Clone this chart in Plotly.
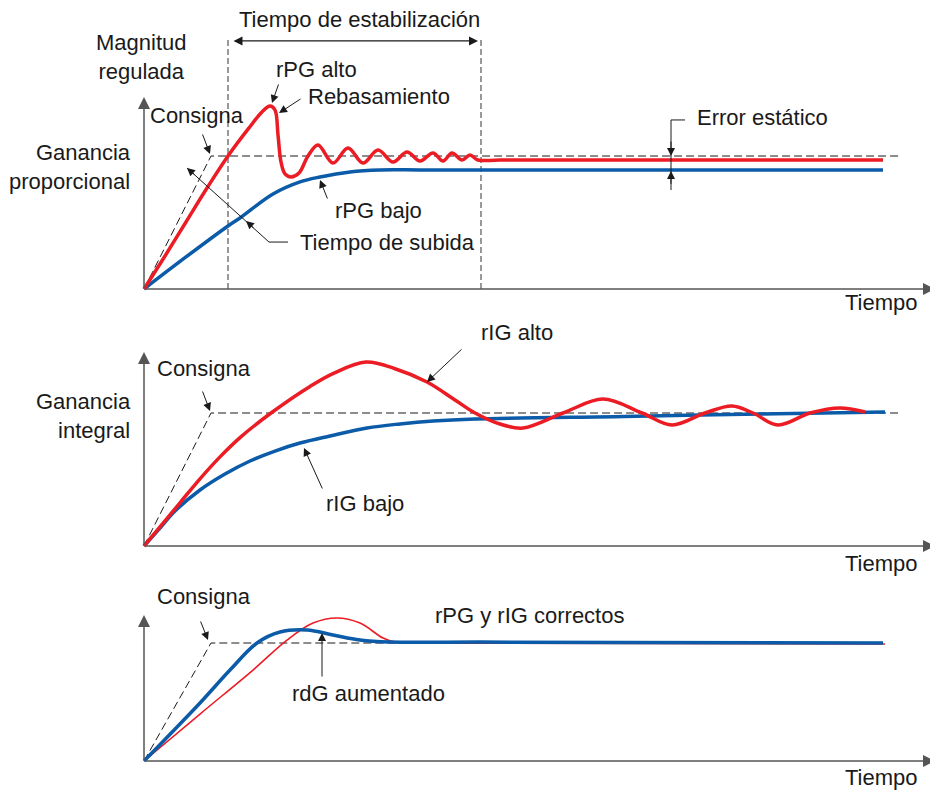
import plotly.graph_objects as go

# ---- data (time units, magnitude with setpoint = 1) ----
# panel 1: proportional gain
p1_red_t = [0, 0.2625, 0.525, 0.7875, 1.05, 1.3125, 1.475, 1.575, 1.6375, 1.675, 1.7125, 1.7625,
            1.8375, 1.9375, 2.05, 2.175, 2.3625, 2.55, 2.7375, 2.925, 3.1125, 3.2875, 3.45,
            3.6125, 3.7375, 3.85, 3.975, 4.075, 4.175, 4.45, 6.0, 9.2375]
p1_red_y = [0, 0.248, 0.504, 0.759, 1.0, 1.211, 1.331, 1.376, 1.346, 1.158, 0.955, 0.865,
            0.842, 0.872, 1.0, 1.083, 0.947, 1.060, 0.947, 1.045, 0.955, 1.030, 0.962,
            1.023, 0.962, 1.023, 0.970, 1.008, 0.970, 0.970, 0.970, 0.970]
p1_blue_t = [0, 0.525, 1.05, 1.2, 1.6125, 1.95, 2.2, 2.575, 2.95, 3.45, 4.5, 9.2375]
p1_blue_y = [0, 0.241, 0.474, 0.534, 0.714, 0.805, 0.842, 0.880, 0.895, 0.895, 0.895, 0.895]

# panel 2: integral gain
p2_red_t = [0, 0.2, 0.45, 0.7, 0.95, 1.2, 1.5875, 2.075, 2.375, 2.775, 3.1375, 3.5375, 3.8875,
            4.1375, 4.45, 4.7375, 5.2375, 5.7375, 6.225, 6.6, 7.0125, 7.35, 7.6125, 7.925,
            8.325, 8.7, 9.0125]
p2_red_y = [0, 0.143, 0.325, 0.505, 0.67, 0.815, 1.0, 1.2, 1.3, 1.383, 1.333, 1.233, 1.098,
            1.0, 0.917, 0.887, 1.0, 1.105, 1.0, 0.910, 1.0, 1.053, 1.0, 0.910, 1.0, 1.038,
            1.008]
p2_blue_t = [0, 0.2, 0.3875, 0.7, 1.0125, 1.325, 1.6375, 1.95, 2.325, 2.7875, 3.2, 3.6125,
             4.1375, 6.0, 7.5, 9.2625]
p2_blue_y = [0, 0.135, 0.263, 0.421, 0.541, 0.639, 0.714, 0.774, 0.827, 0.887, 0.918, 0.940,
             0.955, 0.974, 0.990, 1.008]

# panel 3: derivative gain
p3_red_t = [0, 0.7, 1.3625, 1.7875, 2.1125, 2.4125, 2.7, 2.9875, 3.1375, 3.45, 4.5, 9.2625]
p3_red_y = [0, 0.398, 0.771, 1.025, 1.169, 1.212, 1.169, 1.042, 1.008, 1.0, 0.998, 0.992]
p3_blue_t = [0, 0.7, 1.075, 1.4125, 1.7, 2.0375, 2.3625, 2.7, 3.075, 4.2, 6.0, 9.2375]
p3_blue_y = [0, 0.492, 0.771, 1.0, 1.093, 1.110, 1.068, 1.025, 1.008, 1.008, 1.005, 1.0]

# setpoint ramp then plateau
setpoint_t = [0, 0.8375, 9.45]
setpoint_y = [0, 1.0, 1.0]
setpoint3_t = [0, 0.8375, 9.2]

rise_t = 1.05
settle_t = 4.2125
static_err_t = 6.5875

RED = "#ec1c24"
BLUE = "#0b5ba8"
INK = "#1a1a1a"
AXIS = "#555555"
FONT = "Liberation Sans, Arial, sans-serif"
FS = 22

# ---- layout geometry (pixels of the 938x794 reference page) ----
OFF = 8                      # default body margin of the html page
W, H = 938 - OFF, 794 - OFF
X0, TPX = 144, 80.0
panels = [  # top px, bottom px, origin px, px per unit
    (OFF, 315, 289, 133.0),
    (315, 580, 546, 133.0),
    (580, 794, 761, 118.0),
]

fig = go.Figure()


def axn(i):
    return "" if i == 1 else str(i)


def line(i, t, y, color, width, dash=None, shape="spline"):
    fig.add_trace(go.Scatter(
        x=t, y=y, mode="lines", xaxis="x" + axn(i), yaxis="y" + axn(i),
        line=dict(color=color, width=width, dash=dash, shape=shape, smoothing=1.0),
        hoverinfo="skip", showlegend=False))


annotations = []


def arrow(i, x0, y0, x1, y1, width=1.0, size=1.6, color=INK, side="end"):
    annotations.append(dict(
        x=x1, y=y1, ax=x0, ay=y0, xref="x" + axn(i), yref="y" + axn(i),
        axref="x" + axn(i), ayref="y" + axn(i), text="", showarrow=True,
        arrowhead=2, arrowsize=size, arrowwidth=width, arrowcolor=color,
        arrowside=side, standoff=0, startstandoff=0))


def label(i, x, y, text, xanchor="center", align="center"):
    annotations.append(dict(
        x=x, y=y, xref="x" + axn(i), yref="y" + axn(i), text=text, showarrow=False,
        xanchor=xanchor, yanchor="middle", align=align,
        font=dict(family=FONT, size=FS, color=INK)))


# panel 1
line(1, setpoint_t, setpoint_y, INK, 1, dash="8px,4px", shape="linear")
line(1, [rise_t, rise_t], [0, 1.887], "#333333", 1, dash="6px,3px", shape="linear")
line(1, [settle_t, settle_t], [0, 1.887], "#333333", 1, dash="6px,3px", shape="linear")
line(1, p1_blue_t, p1_blue_y, BLUE, 3.5)
line(1, p1_red_t, p1_red_y, RED, 3.5)
line(1, [static_err_t + 0.175, static_err_t, static_err_t], [1.271, 1.271, 0.744], INK, 1, shape="linear")
line(1, [1.8, 1.5625, 0.5375], [0.353, 0.353, 0.910], INK, 1, shape="linear")

# panel 2
line(2, setpoint_t, setpoint_y, INK, 1, dash="8px,4px", shape="linear")
line(2, p2_blue_t, p2_blue_y, BLUE, 3.5)
line(2, p2_red_t, p2_red_y, RED, 3.5)

# panel 3
line(3, setpoint3_t, setpoint_y, INK, 1, dash="8px,4px", shape="linear")
line(3, p3_red_t, p3_red_y, RED, 1.6)
line(3, p3_blue_t, p3_blue_y, BLUE, 3.5)

# axes with arrowheads
tops = [1.444, 1.459, 1.237]
for i, top in enumerate(tops, start=1):
    arrow(i, 0, 0, 0, top, width=1.5, size=1.6, color=AXIS)
    arrow(i, 0, 0, 9.8875, 0, width=1.5, size=1.6, color=AXIS)
    label(i, 9.7, [-0.105, -0.128, -0.136][i - 1], "Tiempo", xanchor="right")

# panel 1 annotations
arrow(1, 1.1, 1.865, 4.175, 1.865, width=1.2, size=1.5, side="end+start")
label(1, 2.6875, 2.023, "Tiempo de estabilización")
label(1, -0.0375, 1.744, "Magnitud<br>regulada")
label(1, 0.6625, 1.308, "Consigna")
arrow(1, 0.725, 1.173, 0.825, 1.015)
label(1, -0.14, 0.917, "Ganancia<br>proporcional", xanchor="right", align="right")
label(1, 2.15, 1.647, "rPG alto")
arrow(1, 1.6875, 1.549, 1.6, 1.398)
label(1, 2.025, 1.451, "Rebasamiento", xanchor="left")
arrow(1, 1.975, 1.436, 1.6875, 1.323)
label(1, 2.3625, 0.594, "rPG bajo", xanchor="left")
arrow(1, 2.3, 0.669, 2.2, 0.820)
label(1, 1.925, 0.346, "Tiempo de subida", xanchor="left")
arrow(1, 0.65, 0.85, 0.5375, 0.910)
arrow(1, 1.3875, 0.451, 1.275, 0.511)
label(1, 6.8875, 1.286, "Error estático", xanchor="left")
arrow(1, static_err_t, 1.12, static_err_t, 1.0)
arrow(1, static_err_t, 0.78, static_err_t, 0.887)

# panel 2 annotations
label(2, 0.75, 1.338, "Consigna")
arrow(2, 0.725, 1.173, 0.825, 1.015)
label(2, -0.14, 0.977, "Ganancia<br>integral", xanchor="right", align="right")
label(2, 4.1875, 1.602, "rIG alto", xanchor="left")
arrow(2, 3.9875, 1.489, 3.5375, 1.233)
label(2, 2.25, 0.316, "rIG bajo", xanchor="left")
arrow(2, 2.2375, 0.421, 2.0, 0.737)

# panel 3 annotations
label(3, 0.75, 1.390, "Consigna")
arrow(3, 0.7, 1.195, 0.8, 1.025)
label(3, 3.6125, 1.237, "rPG y rIG correctos", xanchor="left")
label(3, 1.825, 0.568, "rdG aumentado", xanchor="left")
arrow(3, 2.225, 0.703, 2.225, 1.085)

layout = dict(
    width=W, height=H, margin=dict(l=0, r=0, t=0, b=0),
    paper_bgcolor="white", plot_bgcolor="white", showlegend=False,
    font=dict(family=FONT, size=FS, color=INK),
    annotations=annotations,
)
for i, (top, bottom, origin, ypx) in enumerate(panels, start=1):
    n = axn(i)
    layout["xaxis" + n] = dict(
        domain=[0, 1], range=[(OFF - X0) / TPX, (W + OFF - X0) / TPX], visible=False,
        anchor="y" + n, fixedrange=True)
    layout["yaxis" + n] = dict(
        domain=[1 - (bottom - OFF) / H, 1 - (top - OFF) / H],
        range=[(origin - bottom) / ypx, (origin - top) / ypx], visible=False,
        anchor="x" + n, fixedrange=True)

fig.update_layout(**layout)
fig.write_html("out.html")
